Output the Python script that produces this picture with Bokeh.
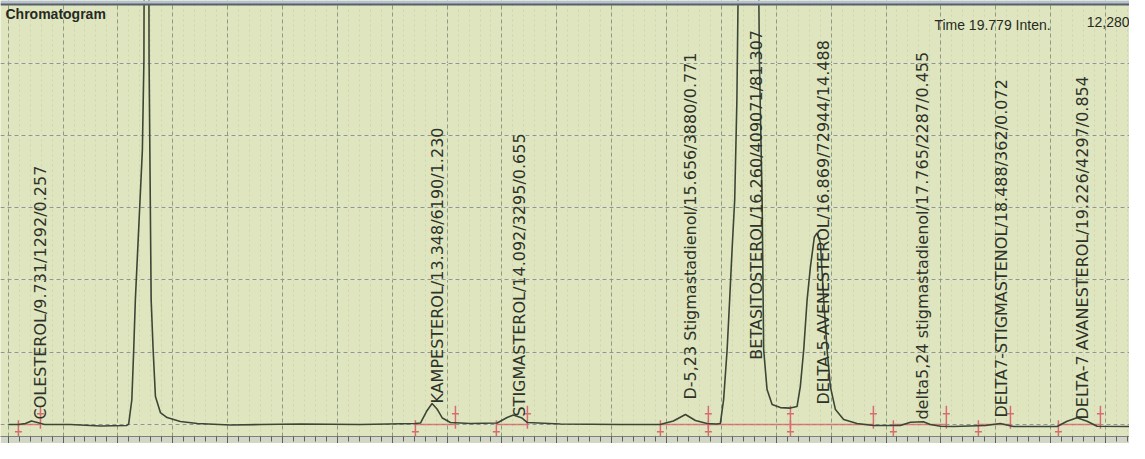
import math
from bokeh.plotting import figure
from bokeh.models import Range1d, Label, Span, Grid, SingleIntervalTicker, BoxAnnotation
from bokeh.core.properties import value
from bokeh.embed import file_html
from bokeh.resources import INLINE

trace_time = [9.502, 9.593, 9.657, 9.712, 9.766, 9.830, 10.067, 10.340, 10.577, 10.598,
              10.627, 10.644, 10.659, 10.691, 10.723, 10.737, 10.762, 10.784, 10.791, 10.803,
              10.821, 10.842, 10.887, 10.948, 11.069, 11.224, 11.525, 11.799, 12.163, 12.710,
              13.211, 13.257, 13.312, 13.363, 13.412, 13.457, 13.530, 13.712, 13.956, 14.047,
              14.104, 14.183, 14.232, 14.533, 15.079, 15.441, 15.562, 15.672, 15.763, 15.869,
              15.954, 15.990, 16.020, 16.052, 16.075, 16.097, 16.121, 16.141, 16.259, 16.346,
              16.371, 16.385, 16.416, 16.462, 16.537, 16.627, 16.689, 16.719, 16.750, 16.781,
              16.811, 16.847, 16.872, 16.902, 16.932, 16.963, 16.993, 17.039, 17.114, 17.236,
              17.385, 17.631, 17.722, 17.841, 17.904, 17.996, 18.114, 18.406, 18.542, 18.661,
              19.059, 19.150, 19.241, 19.332, 19.424, 19.791]
trace_intensity = [0, 0, 28, 97, 55, 0, 0, -41, -28, 14,
                   690, 2070, 3450, 5520, 7590, 10074, 40000, 10074, 7590, 3450,
                   2070, 773, 331, 193, 83, 28, -14, 0, 14, 0,
                   28, 41, 359, 580, 414, 179, 55, 28, 41, 193,
                   262, 179, 55, 14, 0, 0, 97, 276, 110, 28,
                   14, 28, 690, 2070, 3450, 4830, 6210, 8970, 40000, 10074,
                   6210, 2070, 966, 552, 469, 455, 497, 1049, 2070, 3450,
                   4361, 5189, 5299, 5023, 3450, 2070, 1049, 414, 138, 28,
                   -28, -28, 63, 75, 0, -47, -55, -28, 28, -55,
                   -55, 91, 185, 91, -47, -55]

# Peak table
peak_names = ["COLESTEROL", "KAMPESTEROL", "STIGMASTEROL", "D-5,23 Stigmastadienol",
              "BETASITOSTEROL", "DELTA-5-AVENESTEROL", "delta5,24 stigmastadienol",
              "DELTA7-STIGMASTENOL", "DELTA-7 AVANESTEROL"]
peak_rt = [9.731, 13.348, 14.092, 15.656, 16.260, 16.869, 17.765, 18.488, 19.226]
peak_area = [1292, 6190, 3295, 3880, 409071, 72944, 2287, 362, 4297]
peak_pct = [0.257, 1.230, 0.655, 0.771, 81.307, 14.488, 0.455, 0.072, 0.854]
label_y = [138, 580, 221, 690, 1794, 552, 138, 193, 138]
peak_start = [9.593, 13.211, 13.949, 15.444, 15.881, 16.629, 17.567, 18.342, 19.071]
peak_end = [9.794, 13.576, 14.232, 15.881, 16.629, 17.385, 18.050, 18.634, 19.454]

labels = [f"{n}/{rt:.3f}/{a}/{pc:.3f}" for n, rt, a, pc in zip(peak_names, peak_rt, peak_area, peak_pct)]

BG = "#dfe6bf"
p = figure(width=1129, height=443, output_backend="svg", toolbar_location=None,
           x_range=Range1d(9.43, 19.719), y_range=Range1d(-331, 11730),
           y_axis_location=None, min_border_left=0, min_border_right=0,
           min_border_top=0, min_border_bottom=0,
           background_fill_color=BG, border_fill_color="#d2d6c4", outline_line_color=None)

# bottom ruler
ax = p.xaxis[0]
ax.ticker = SingleIntervalTicker(interval=0.5, num_minor_ticks=5)
ax.major_label_text_font_size = "1px"
ax.major_label_text_alpha = 0
ax.major_label_standoff = 0
ax.axis_line_color = "#7d8080"
ax.major_tick_line_color = "#5d6060"
ax.minor_tick_line_color = "#5d6060"
ax.major_tick_out = 7
ax.minor_tick_out = 5
ax.major_tick_in = 0
ax.minor_tick_in = 0

p.xgrid.grid_line_color = "#8f9a82"
p.xgrid.grid_line_dash = "4 3"
p.xgrid.grid_line_width = 1
p.xgrid.minor_grid_line_color = "#cdd5b0"
p.xgrid.minor_grid_line_dash = "2 3"
p.add_layout(Grid(dimension=1, ticker=SingleIntervalTicker(interval=2000),
                  grid_line_color="#8f9a82", grid_line_dash="4 3", grid_line_width=1))

# screen title bar at the top edge
p.add_layout(BoxAnnotation(bottom=11620, fill_color="#b9c2cc", fill_alpha=1.0, line_color=None))
p.add_layout(Span(location=11620, dimension="width", line_color="#56606a", line_width=2))

# integration baselines and markers
RED = "#d86a72"
p.segment(x0=peak_start, y0=[0] * len(peak_start), x1=peak_end, y1=[0] * len(peak_end),
          line_color=RED, line_width=1.6, line_alpha=0.85)
p.segment(x0=peak_start, y0=[-450] * len(peak_start), x1=peak_start, y1=[120] * len(peak_start),
          line_color=RED, line_width=1.5)
p.segment(x0=peak_end, y0=[-120] * len(peak_end), x1=peak_end, y1=[520] * len(peak_end),
          line_color=RED, line_width=1.5)
p.scatter(peak_start, [-200] * len(peak_start), marker="dash", size=7, line_color=RED, line_width=1.5)
p.scatter(peak_end, [300] * len(peak_end), marker="dash", size=7, line_color=RED, line_width=1.5)

# trace
p.line(trace_time, trace_intensity, line_color="#3c4636", line_width=1.6)

# peak labels
p.text(x=peak_rt, y=label_y, text=labels, angle=math.pi / 2,
       text_font=value("DejaVu Sans"), text_font_size="16px", text_color="#2e3329",
       text_baseline="middle", text_align="left", x_offset=7)

p.add_layout(Label(x=p.x_range.start, y=p.y_range.end, text="Chromatogram",
                   text_font="Liberation Sans", text_font_size="14px", text_color="#262a22",
                   text_font_style="bold", text_baseline="top", text_align="left",
                   x_offset=5, y_offset=-5))
p.add_layout(Label(x=p.x_range.end, y=p.y_range.end, text="Time 19.779  Inten.",
                   text_font="Liberation Sans", text_font_size="14px", text_color="#262a22",
                   text_baseline="top", text_align="right", x_offset=-75, y_offset=-16))
p.add_layout(Label(x=p.x_range.end, y=p.y_range.end, text="12,280",
                   text_font="Liberation Sans", text_font_size="14px", text_color="#262a22",
                   text_baseline="top", text_align="right", x_offset=0, y_offset=-16))

open("out.html", "w").write(file_html(p, INLINE))
